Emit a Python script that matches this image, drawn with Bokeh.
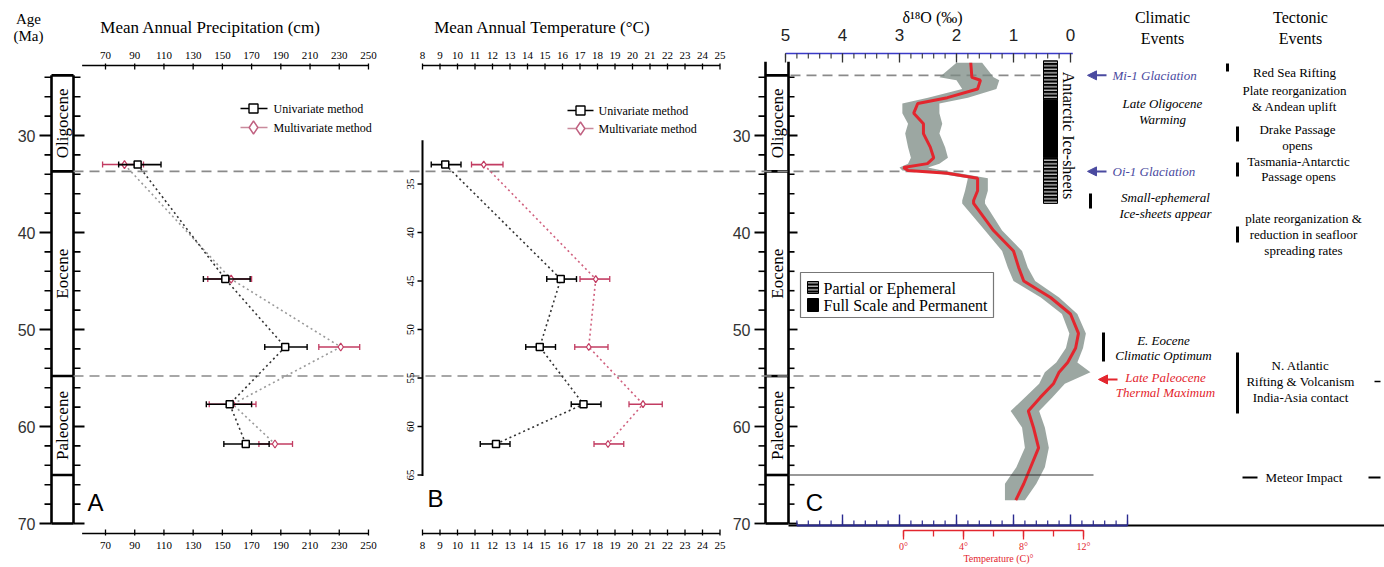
import numpy as np
from bokeh.plotting import figure
from bokeh.models import Range1d, Arrow, NormalHead
from bokeh.core.properties import value
from bokeh.embed import file_html
from bokeh.resources import INLINE

# ---------------- data ----------------
ages = [33.0, 44.8, 51.8, 57.7, 61.8]

precip_uni = [92, 152, 193, 155, 166]
precip_uni_lo = [79, 137, 179, 139, 151]
precip_uni_hi = [108, 169, 208, 170, 182]
precip_multi = [83, 156, 231, 157, 186]
precip_multi_lo = [68, 140, 216, 141, 175]
precip_multi_hi = [96, 170, 244, 173, 198]

temp_uni = [9.3, 15.9, 14.7, 17.2, 12.2]
temp_uni_lo = [8.5, 15.1, 13.9, 16.5, 11.3]
temp_uni_hi = [10.2, 16.8, 15.6, 18.2, 13.0]
temp_multi = [11.5, 17.9, 17.5, 20.6, 18.6]
temp_multi_lo = [10.8, 17.0, 16.7, 19.8, 17.8]
temp_multi_hi = [12.6, 18.7, 18.6, 21.7, 19.5]

curve_ages = [22.5, 24.0, 24.3, 25.2, 26.1, 26.7, 27.7, 28.8, 29.8, 31.2, 32.3, 32.9,
              33.3, 33.6, 33.9, 34.4, 35.7, 36.7, 37.0, 39.8, 41.9, 43.6, 45.0, 46.7,
              48.4, 50.4, 51.9, 53.4, 54.4, 55.6, 57.0, 58.4, 60.1, 62.2, 64.2, 65.9, 67.6]
d18o_curve = [1.75, 1.73, 1.58, 1.63, 2.16, 2.68, 2.75, 2.58, 2.58, 2.46, 2.40, 2.51,
              2.93, 2.85, 2.16, 1.63, 1.63, 1.70, 1.70, 1.35, 1.00, 0.91, 0.82, 0.35,
              0.00, -0.14, -0.09, 0.05, 0.20, 0.30, 0.53, 0.74, 0.65, 0.56, 0.70, 0.82, 0.96]
d18o_cloud_max = [2.0, 2.3, 2.0, 1.9, 2.5, 2.95, 2.95, 2.85, 2.9, 2.85, 2.8, 2.85,
                  3.0, 2.95, 2.35, 1.8, 1.85, 1.9, 1.9, 1.5, 1.2, 1.1, 1.0, 0.52,
                  0.15, 0.02, 0.08, 0.25, 0.45, 0.55, 0.8, 1.05, 0.85, 0.8, 0.95, 1.15, 1.15]
d18o_cloud_min = [1.55, 1.35, 1.25, 1.3, 1.8, 2.3, 2.3, 2.25, 2.3, 2.2, 2.15, 2.3,
                  2.5, 2.25, 1.95, 1.45, 1.45, 1.5, 1.5, 1.2, 0.85, 0.75, 0.62, 0.2,
                  -0.12, -0.27, -0.22, -0.12, -0.35, 0.1, 0.32, 0.55, 0.45, 0.38, 0.45, 0.6, 0.8]

ice_top = [22.3, 26.4, 32.3]
ice_bottom = [26.4, 32.3, 37.0]
ice_full = [False, True, False]

epoch_names = ["Oligocene", "Eocene", "Paleocene"]
epoch_top = [23.8, 33.7, 54.8]
epoch_bottom = [33.7, 54.8, 65.0]
column_base = 70.0

precip_ticks = [70, 90, 110, 130, 150, 170, 190, 210, 230, 250]
temp_ticks = list(range(8, 26))
age_ticks = [30, 40, 50, 60, 70]
age_ticks_b = [35, 40, 45, 50, 55, 60, 65]
d18o_ticks = [5, 4, 3, 2, 1, 0]
tc_ticks = [0, 4, 8, 12]

# ---------------- layout / scales ----------------
W, H = 1384, 567
PX0, PY0 = 0, 0
AGE_REF, AGE_REF_PY, PX_PER_MA = 30.0, 135.0, 9.7


def age_at(py):
    return AGE_REF + (py - AGE_REF_PY) / PX_PER_MA


def lin_range(v0, px0, ppu):
    return Range1d(start=v0 + (PX0 - px0) / ppu, end=v0 + (PX0 + W - px0) / ppu)


p = figure(width=W, height=H, x_range=Range1d(PX0, PX0 + W),
           y_range=Range1d(age_at(PY0 + H), age_at(PY0)),
           output_backend="svg", toolbar_location=None,
           x_axis_type=None, y_axis_type=None, min_border=0,
           outline_line_color=None, background_fill_color="white",
           border_fill_color="white")
p.extra_x_ranges = {
    "pr": lin_range(70, 105, 1.461),
    "te": lin_range(8, 422, 17.5),
    "d18": lin_range(0, 1070, -57.0),
    "tc": lin_range(0, 903, 15.0),
}
p.extra_y_ranges = {"py": Range1d(PY0 + H, PY0)}

SERIF = value("Liberation Serif")
SANS = value("Liberation Sans")
PINK = "#c23c62"
BLUE = "#3a3ac8"
RED = "#e3262e"


def L(v):
    return list(v) if isinstance(v, (list, tuple, np.ndarray)) else [v]


def txt(x, y, s, size, font=SERIF, color="black", align="center", baseline="middle",
        style="normal", angle=0.0, xr="default", yr="py"):
    s = L(s)
    n = len(s)
    x = L(x) * (n if len(L(x)) == 1 else 1)
    y = L(y) * (n if len(L(y)) == 1 else 1)
    p.text(x=x, y=y, text=s, text_font=font, text_font_size=f"{size}px",
           text_color=color, text_align=align, text_baseline=baseline,
           text_font_style=style, angle=angle, x_range_name=xr, y_range_name=yr)


def seg(x0, y0, x1, y1, color="black", width=1.0, dash="solid", xr="default", yr="default"):
    lists = [L(x0), L(y0), L(x1), L(y1)]
    n = max(len(a) for a in lists)
    lists = [a * n if len(a) == 1 else a for a in lists]
    p.segment(x0=lists[0], y0=lists[1], x1=lists[2], y1=lists[3], line_color=color,
              line_width=width, line_dash=dash, x_range_name=xr, y_range_name=yr)


# ---------------- stratigraphic columns ----------------
def column(xl, xr_, top_age, label_x, tick_out_major, tick_out_minor, tick_in_major, tick_in_minor,
           lab_x):
    seg([xl, xr_], [top_age, top_age], [xl, xr_], [column_base, column_base], width=2.6)
    bounds = epoch_top + [epoch_bottom[-1], column_base]
    seg(xl, bounds, xr_, bounds, width=2.6)
    mids = [(a + b) / 2 for a, b in zip(epoch_top, epoch_bottom)]
    txt(label_x, mids, epoch_names, 17, angle=np.pi / 2, yr="default")
    minor = [a for a in range(24, 71, 2) if a not in age_ticks]
    seg(xl - tick_out_minor, minor, xl, minor, width=1.6)
    seg(xl - tick_out_major, age_ticks, xl, age_ticks, width=1.8)
    seg(xr_, minor, xr_ + tick_in_minor, minor, width=1.6)
    seg(xr_, age_ticks, xr_ + tick_in_major, age_ticks, width=1.8)
    txt(lab_x, age_ticks, [str(a) for a in age_ticks], 16, font=SANS, color="#333",
        align="right", yr="default")


column(51, 73, 23.8, 62, 12, 7, 11, 7, 35)
column(765, 788, 22.4, 777, 11, 7, 9, 6, 750)
txt(28, 18, "Age", 15)
txt(28, 35, "(Ma)", 15)

# dashed boundary lines
seg(73, [33.7, 54.8], 1040, [33.7, 54.8], color="#8a8a8a", width=1.6, dash="10 6")
seg(790, 23.8, 1040, 23.8, color="#8a8a8a", width=1.6, dash="10 6")

# ---------------- panel A ----------------
for ypos, tick_dir, lab_y in [(65, 1, 55), (533, -1, 545)]:
    seg(54, ypos, 250, ypos, width=1.6, xr="pr", yr="py")
    seg(precip_ticks, ypos - 2 * tick_dir, precip_ticks, ypos + 4 * tick_dir,
        width=1.3, xr="pr", yr="py")
    txt(precip_ticks, lab_y, [str(t) for t in precip_ticks], 11, xr="pr")
txt(210, 27, "Mean Annual Precipitation (cm)", 17)

p.line(precip_multi, ages, x_range_name="pr", line_color="#9a9a9a", line_width=1.6,
       line_dash="2 3")
p.line(precip_uni, ages, x_range_name="pr", line_color="#333333", line_width=1.6,
       line_dash="2 3")
seg(precip_multi_lo, ages, precip_multi_hi, ages, color=PINK, width=1.5, xr="pr")
p.scatter(precip_multi_lo + precip_multi_hi, ages + ages, marker="dash", angle=np.pi / 2,
          size=6, line_color=PINK, line_width=1.3, x_range_name="pr")
p.scatter(precip_multi, ages, marker="diamond", size=8, fill_color="white",
          line_color=PINK, line_width=1.2, x_range_name="pr")
seg(precip_uni_lo, ages, precip_uni_hi, ages, color="black", width=1.6, xr="pr")
p.scatter(precip_uni_lo + precip_uni_hi, ages + ages, marker="dash", angle=np.pi / 2,
          size=6, line_color="black", line_width=1.4, x_range_name="pr")
p.scatter(precip_uni, ages, marker="square", size=7, fill_color="white",
          line_color="black", line_width=1.5, x_range_name="pr")

txt(95, 502, "A", 24, font=SANS)


def legend_ab(x0, x1, xm, xt, y1, y2):
    seg(x0, y1, x1, y1, width=1.4, yr="py")
    p.scatter([xm], [y1], marker="square", size=9, fill_color="white", line_color="black",
              line_width=1.4, y_range_name="py")
    txt(xt, y1, "Univariate method", 12, align="left")
    seg(x0, y2, x1, y2, color="#c98a9c", width=1.4, yr="py")
    p.scatter([xm], [y2], marker="diamond", size=13, fill_color="white", line_color="#c06080",
              line_width=1.4, y_range_name="py")
    txt(xt, y2, "Multivariate method", 12, align="left")


legend_ab(240, 267, 253, 273, 108, 127)

# ---------------- panel B ----------------
for ypos, tick_dir, lab_y in [(65, 1, 55), (533, -1, 545)]:
    seg(8, ypos, 25, ypos, width=1.6, xr="te", yr="py")
    seg(temp_ticks, ypos - 2 * tick_dir, temp_ticks, ypos + 4 * tick_dir,
        width=1.3, xr="te", yr="py")
    txt(temp_ticks, lab_y, [str(t) for t in temp_ticks], 11, xr="te")
txt(542, 27, "Mean Annual Temperature (°C)", 17)

seg(422, 30.5, 422, 65.1, width=2)
seg(417, age_ticks_b, 422, age_ticks_b, width=1.5)
txt(410, age_ticks_b, [str(a) for a in age_ticks_b], 11, angle=np.pi / 2, yr="default")

p.line(temp_multi, ages, x_range_name="te", line_color="#d0607e", line_width=1.6,
       line_dash="2 3")
p.line(temp_uni, ages, x_range_name="te", line_color="#333333", line_width=1.6,
       line_dash="2 3")
seg(temp_multi_lo, ages, temp_multi_hi, ages, color=PINK, width=1.6, xr="te")
p.scatter(temp_multi_lo + temp_multi_hi, ages + ages, marker="dash", angle=np.pi / 2,
          size=6, line_color=PINK, line_width=1.3, x_range_name="te")
p.scatter(temp_multi, ages, marker="diamond", size=7, fill_color="white",
          line_color=PINK, line_width=1.2, x_range_name="te")
seg(temp_uni_lo, ages, temp_uni_hi, ages, color="black", width=1.6, xr="te")
p.scatter(temp_uni_lo + temp_uni_hi, ages + ages, marker="dash", angle=np.pi / 2,
          size=6, line_color="black", line_width=1.4, x_range_name="te")
p.scatter(temp_uni, ages, marker="square", size=7, fill_color="white",
          line_color="black", line_width=1.5, x_range_name="te")
txt(435, 498, "B", 24, font=SANS)
legend_ab(567, 593, 580, 598, 110, 128)

# ---------------- panel C ----------------
d_minor = [round(v, 1) for v in np.arange(0, 5.01, 0.2)]
seg(5.0, 53, -0.04, 53, color=BLUE, width=1.6, xr="d18", yr="py")
seg(d_minor, 53, d_minor, 58, color="#333", width=1.1, xr="d18", yr="py")
seg(d18o_ticks, 53, d18o_ticks, 62, color="#333", width=1.3, xr="d18", yr="py")
txt(d18o_ticks, 34, [str(t) for t in d18o_ticks], 17, font=SANS, color="#222", xr="d18")
txt(932, 17, "δ¹⁸O (‰)", 16)

# bottom scales
seg(788, 525, PX0 + W, 525, width=1.8, yr="py")
d_minor_b = [round(v, 1) for v in np.arange(-1.0, 4.81, 0.2)]
d_major_b = [-1, 0, 1, 2, 3, 4]
seg(4.8, 525, -1.0, 525, color="#2a2a90", width=1.8, xr="d18", yr="py")
seg(d_minor_b, 525, d_minor_b, 520, color="#2a2a90", width=1.2, xr="d18", yr="py")
seg(d_major_b, 525, d_major_b, 514, color="#2a2a90", width=1.4, xr="d18", yr="py")
tc_minor = [0, 2, 4, 6, 8, 10, 12]
seg(0, 530, 12, 530, color=RED, width=1.6, xr="tc", yr="py")
seg(tc_minor, 530, tc_minor, 536, color=RED, width=1.3, xr="tc", yr="py")
seg(tc_ticks, 530, tc_ticks, 539, color=RED, width=1.3, xr="tc", yr="py")
txt(tc_ticks, 546, [f"{t}°" for t in tc_ticks], 10, color=RED, xr="tc")
txt(998, 558, "Temperature (C)°", 10, color=RED)

# data cloud and smoothed curve
p.harea(x1=d18o_cloud_max, x2=d18o_cloud_min, y=curve_ages, x_range_name="d18",
        fill_color="#7b8a83", fill_alpha=0.75)
p.line(d18o_curve, curve_ages, x_range_name="d18", line_color=RED, line_width=3)

# K/Pg line
seg(788, 65.0, 1093, 65.0, color="#333", width=1.2)

# ice sheets
for t, b, full in zip(ice_top, ice_bottom, ice_full):
    if full:
        p.quad(left=[1043], right=[1057], top=[t], bottom=[b], fill_color="black",
               line_color="black")
    else:
        p.quad(left=[1043], right=[1057], top=[t], bottom=[b], fill_color="black",
               line_color="black", hatch_pattern="horizontal_line", hatch_color="white",
               hatch_scale=3.5, hatch_weight=1.0)
txt(1068, 135, "Antarctic Ice-sheets", 16, angle=-np.pi / 2)

# legend C
p.quad(left=[800], right=[993], top=[272], bottom=[317], fill_color="white",
       line_color="#777", line_width=1.2, y_range_name="py")
p.quad(left=[807], right=[818], top=[281], bottom=[293], fill_color="black",
       line_color="black", hatch_pattern="horizontal_line", hatch_color="white",
       hatch_scale=3.5, hatch_weight=1.0, y_range_name="py")
p.quad(left=[807], right=[818], top=[298], bottom=[311], fill_color="black",
       line_color="black", y_range_name="py")
txt(823, 288, "Partial or Ephemeral", 16, align="left")
txt(823, 305, "Full Scale and Permanent", 16, align="left")
txt(814, 502, "C", 24, font=SANS)

# ---------------- climatic events ----------------
txt(1162, 17, "Climatic", 16)
txt(1162, 38, "Events", 16)
for age_arrow, color in [(23.8, "#4a4aa0"), (33.7, "#4a4aa0"), (55.15, RED)]:
    x_start = 1106 if color != RED else 1117
    x_end = 1087 if color != RED else 1098
    p.add_layout(Arrow(end=NormalHead(size=9, fill_color=color, line_color=color),
                       x_start=x_start, y_start=age_arrow, x_end=x_end, y_end=age_arrow,
                       line_color=color, line_width=2))
txt(1112, 75, "Mi-1 Glaciation", 13, color="#4a4aa0", align="left", style="italic")
txt(1162, 103, "Late Oligocene", 13, style="italic")
txt(1162, 119, "Warming", 13, style="italic")
txt(1112, 171, "Oi-1 Glaciation", 13, color="#4a4aa0", align="left", style="italic")
seg(1090, 193, 1090, 208, width=3, yr="py")
txt(1165, 197, "Small-ephemeral", 13, style="italic")
txt(1165, 213, "Ice-sheets appear", 13, style="italic")
seg(1103, 332, 1103, 361, width=3, yr="py")
txt(1163, 340, "E. Eocene", 13, style="italic")
txt(1163, 355, "Climatic Optimum", 13, style="italic")
txt(1165, 377, "Late Paleocene", 13, color=RED, style="italic")
txt(1165, 392, "Thermal Maximum", 13, color=RED, style="italic")

# ---------------- tectonic events ----------------
txt(1300, 17, "Tectonic", 16)
txt(1300, 38, "Events", 16)
seg(1227, 63, 1227, 71, width=3, yr="py")
txt(1294, 72, "Red Sea Rifting", 13)
txt(1294, 90, "Plate reorganization", 13)
txt(1294, 106, "& Andean uplift", 13)
seg(1237, 126, 1237, 141, width=3, yr="py")
txt(1297, 129, "Drake Passage", 13)
txt(1297, 145, "opens", 13)
seg(1237, 162, 1237, 176, width=3, yr="py")
txt(1298, 161, "Tasmania-Antarctic", 13)
txt(1298, 176, "Passage opens", 13)
seg(1237, 226, 1237, 242, width=3, yr="py")
txt(1303, 218, "plate reorganization &", 13)
txt(1303, 234, "reduction in seafloor", 13)
txt(1303, 250, "spreading rates", 13)
seg(1237, 352, 1237, 413, width=3, yr="py")
txt(1300, 365, "N. Atlantic", 13)
txt(1300, 381, "Rifting & Volcanism", 13)
txt(1300, 397, "India-Asia contact", 13)
seg(1242, 477, 1257, 477, width=2, yr="py")
txt(1265, 477, "Meteor Impact", 13, align="left")
seg(1368, 477, 1380, 477, width=2, yr="py")
seg(1374, 381, 1380, 381, width=1.5, yr="py")

open("out.html", "w").write(file_html(p, INLINE, "Cenozoic climate"))
